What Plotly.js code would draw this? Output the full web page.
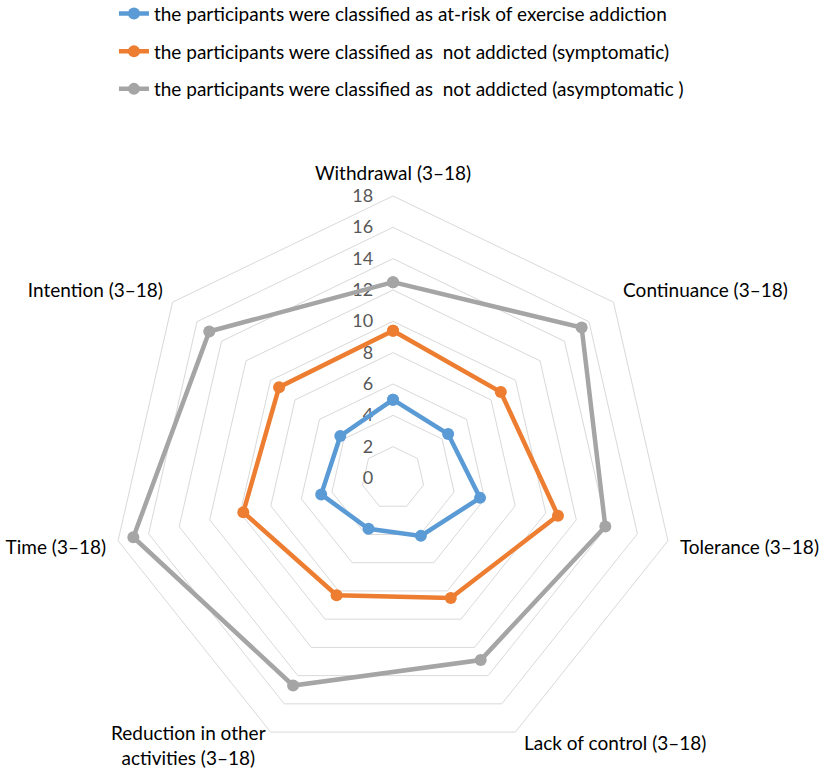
<!DOCTYPE html>
<html>
<head>
<meta charset="utf-8">
<script src="https://cdn.plot.ly/plotly-3.0.1.min.js"></script>
<style>html,body{margin:0;padding:0;background:#fff;}#chart{width:824px;height:768px;}</style>
</head>
<body>
<div id="chart"></div>
<script>
const categories = ["Withdrawal (3–18)", "Continuance (3–18)", "Tolerance (3–18)", "Lack of control (3–18)", "Reduction in other<br>activities (3–18)", "Time (3–18)", "Intention (3–18)"];
const seriesNames = ["the participants were classified as at-risk of exercise addiction", "the participants were classified as  not addicted (symptomatic)", "the participants were classified as  not addicted (asymptomatic )"];
const atRisk = [5.0, 4.5, 5.7, 4.1, 3.6, 4.7, 4.3];
const symptomatic = [9.4, 8.8, 10.8, 8.5, 8.3, 9.8, 9.3];
const asymptomatic = [12.5, 15.4, 13.9, 12.9, 14.7, 17.0, 15.0];
const radialTicks = [0, 2, 4, 6, 8, 10, 12, 14, 16, 18];
const colors = ["#5B9BD5", "#ED7D31", "#A5A5A5"];

const seriesValues = [atRisk, symptomatic, asymptomatic];
const traces = seriesValues.map((vals, i) => ({
  type: "scatterpolar",
  r: vals.concat([vals[0]]),
  theta: categories.concat([categories[0]]),
  mode: "lines+markers",
  name: seriesNames[i],
  legendgroup: "g" + i,
  line: {color: colors[i], width: 4.5},
  marker: {color: colors[i], size: 12},
  hoverinfo: "skip"
}));

// the two bottom category labels sit closer to the chart in the original,
// so they are drawn as annotations (their axis labels are left blank)
const bottomLabels = [
  {index: 3, x: 0.6335, y: 0.0326, xanchor: "left"},
  {index: 4, x: 0.2282, y: 0.03, xanchor: "center"}
];
const bottomIdx = bottomLabels.map(b => b.index);
const angularText = categories.map((c, i) => bottomIdx.includes(i) ? "" : c);

const layout = {
  width: 824, height: 768,
  margin: {l: 0, r: 0, t: 0, b: 0, autoexpand: false},
  paper_bgcolor: "#fff",
  font: {family: "Lato, 'Open Sans', sans-serif", size: 19, color: "#000"},
  showlegend: true,
  legend: {
    x: 0.1383, y: 1.007, xanchor: "left", yanchor: "top",
    font: {size: 19, color: "#000"},
    tracegroupgap: 10,
    bgcolor: "rgba(0,0,0,0)"
  },
  polar: {
    domain: {x: [0.1347, 0.8192], y: [0.0104, 0.7448]},
    gridshape: "linear",
    bgcolor: "#fff",
    radialaxis: {
      range: [0, 18],
      tickvals: radialTicks,
      ticktext: radialTicks.map(String),
      angle: 90,
      tickangle: 90,
      side: "counterclockwise",
      layer: "below traces",
      showline: false,
      gridcolor: "#D9D9D9",
      gridwidth: 1,
      ticks: "outside",
      ticklen: 13,
      tickcolor: "rgba(0,0,0,0)",
      tickfont: {size: 18, color: "#595959"}
    },
    angularaxis: {
      type: "category",
      categoryarray: categories,
      tickmode: "array",
      tickvals: categories,
      ticktext: angularText,
      rotation: 90,
      direction: "clockwise",
      layer: "below traces",
      showgrid: false,
      showline: true,
      linecolor: "#D9D9D9",
      linewidth: 1,
      ticks: "outside",
      ticklen: 8,
      tickcolor: "rgba(0,0,0,0)",
      tickfont: {size: 19, color: "#000"}
    }
  },
  annotations: bottomLabels.map(b => ({
    text: categories[b.index],
    xref: "paper", yref: "paper",
    x: b.x, y: b.y,
    xanchor: b.xanchor, yanchor: "middle",
    align: "center",
    showarrow: false,
    font: {size: 19, color: "#000"}
  }))
};

Plotly.newPlot("chart", traces, layout, {displayModeBar: false, staticPlot: true});
</script>
</body>
</html>
